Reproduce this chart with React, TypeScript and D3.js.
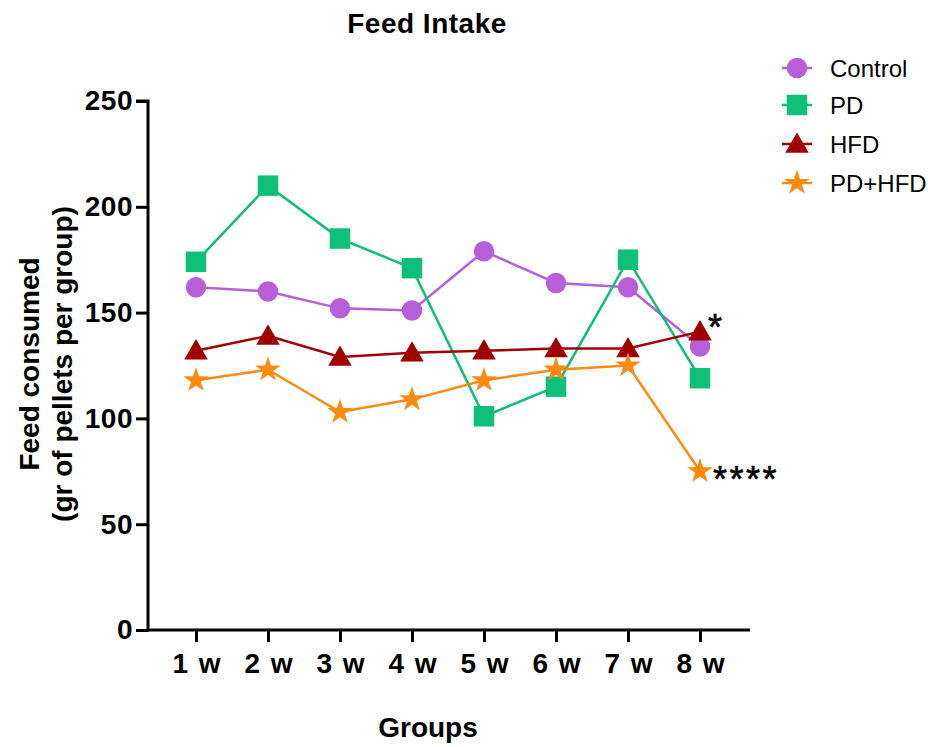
import React, { useEffect, useRef } from 'react';
import * as d3 from 'd3';

const weeks = ['1 w', '2 w', '3 w', '4 w', '5 w', '6 w', '7 w', '8 w'];
const yTicks = [0, 50, 100, 150, 200, 250];

const controlValues = [162, 160, 152, 151, 179, 164, 162, 134];
const pdValues = [174, 210, 185, 171, 101, 115, 175, 119];
const hfdValues = [132, 139, 129, 131, 132, 133, 133, 141];
const pdHfdValues = [118, 123, 103, 109, 118, 123, 125, 75];

const seriesNames = ['Control', 'PD', 'HFD', 'PD+HFD'];
const seriesColors = ['#b65fd8', '#0dbf78', '#a00000', '#ff8a10'];

const FONT = 'Liberation Sans, Arial, sans-serif';

function App() {
  const ref = useRef<SVGSVGElement | null>(null);

  useEffect(() => {
    if (!ref.current) return;
    const svg = d3.select(ref.current);
    svg.selectAll('*').remove();

    const width = 928;
    const height = 747;
    svg.attr('width', width).attr('height', height);

    const x = d3.scalePoint<string>().domain(weeks).range([196, 700]);
    const y = d3.scaleLinear().domain([0, 250]).range([630, 101]);

    const allSeries = [controlValues, pdValues, hfdValues, pdHfdValues];
    const symbols = [d3.symbolCircle, d3.symbolSquare, d3.symbolTriangle, d3.symbolStar];
    const sizes = [330, 420, 240, 200];

    // axes
    const yAxis = d3.axisLeft(y).tickValues(yTicks).tickSize(12).tickPadding(3);
    const gy = svg.append('g').attr('transform', 'translate(148,0)').call(yAxis);
    gy.select('.domain').attr('stroke', '#000').attr('stroke-width', 3).attr('d', 'M-12,101H0V631.5');
    gy.selectAll('.tick line').attr('stroke', '#000').attr('stroke-width', 3);
    gy.selectAll('.tick text')
      .attr('fill', '#000')
      .attr('font-family', FONT)
      .attr('font-weight', 'bold')
      .attr('font-size', 28)
      .attr('letter-spacing', 0.5);

    const xAxis = d3.axisBottom(x).tickSize(12).tickPadding(0);
    const gx = svg.append('g').attr('transform', 'translate(0,630)').call(xAxis);
    gx.select('.domain').attr('stroke', '#000').attr('stroke-width', 3).attr('d', 'M146.5,0H750');
    gx.selectAll('.tick line').attr('stroke', '#000').attr('stroke-width', 3);
    gx.selectAll('.tick text')
      .attr('fill', '#000')
      .attr('font-family', FONT)
      .attr('font-weight', 'bold')
      .attr('font-size', 28)
      .attr('dy', null)
      .attr('y', 43)
      .attr('word-spacing', 3);

    // lines + markers
    allSeries.forEach((vals, si) => {
      const line = d3.line<number>()
        .x((_, i) => x(weeks[i]) as number)
        .y((d) => y(d));
      svg.append('path')
        .datum(vals)
        .attr('fill', 'none')
        .attr('stroke', seriesColors[si])
        .attr('stroke-width', 2.5)
        .attr('d', line);
    });

    allSeries.forEach((vals, si) => {
      const sym = d3.symbol().type(symbols[si]).size(sizes[si]);
      svg.append('g').selectAll('path')
        .data(vals)
        .enter()
        .append('path')
        .attr('transform', (d, i) => `translate(${x(weeks[i])},${y(d) + (si === 2 ? 2 : 0)})`)
        .attr('d', sym)
        .attr('fill', seriesColors[si]);
    });

    // significance marks
    svg.append('text')
      .attr('x', (x('8 w') as number) + 8)
      .attr('y', y(hfdValues[7]) + 8)
      .attr('font-family', FONT)
      .attr('font-size', 36)
      .attr('fill', '#000')
      .attr('stroke', '#000')
      .attr('stroke-width', 0.6)
      .text('*');
    svg.append('text')
      .attr('x', (x('8 w') as number) + 13)
      .attr('y', y(pdHfdValues[7]) + 21)
      .attr('font-family', FONT)
      .attr('font-size', 36)
      .attr('letter-spacing', 2.5)
      .attr('fill', '#000')
      .attr('stroke', '#000')
      .attr('stroke-width', 0.6)
      .text('****');

    // titles
    svg.append('text')
      .attr('x', 427)
      .attr('y', 33)
      .attr('text-anchor', 'middle')
      .attr('font-family', FONT)
      .attr('font-weight', 'bold')
      .attr('font-size', 28)
      .attr('letter-spacing', 0.5)
      .text('Feed Intake');

    svg.append('text')
      .attr('x', 428)
      .attr('y', 737)
      .attr('text-anchor', 'middle')
      .attr('font-family', FONT)
      .attr('font-weight', 'bold')
      .attr('font-size', 28)
      .text('Groups');

    const yl = svg.append('text')
      .attr('transform', 'translate(39,364) rotate(-90)')
      .attr('text-anchor', 'middle')
      .attr('font-family', FONT)
      .attr('font-weight', 'bold')
      .attr('font-size', 28);
    yl.append('tspan').attr('x', 0).attr('dy', 0).text('Feed consumed');
    yl.append('tspan').attr('x', 0).attr('dy', 33).text('(gr of pellets per group)');

    // legend
    const legendY = [68, 105, 144, 183];
    seriesNames.forEach((name, si) => {
      const g = svg.append('g').attr('transform', `translate(797,${legendY[si]})`);
      g.append('line')
        .attr('x1', -15).attr('x2', 15)
        .attr('y1', 0).attr('y2', 0)
        .attr('stroke', seriesColors[si])
        .attr('stroke-width', 2.5);
      g.append('path')
        .attr('d', d3.symbol().type(symbols[si]).size(sizes[si])())
        .attr('transform', si === 2 ? 'translate(0,2)' : '')
        .attr('fill', seriesColors[si]);
      g.append('text')
        .attr('x', 33)
        .attr('y', 8.5)
        .attr('font-family', FONT)
        .attr('font-size', 24)
        .attr('fill', '#000')
        .text(name);
    });
  }, []);

  return (
    <svg
      ref={ref}
      style={{ position: 'absolute', left: 0, top: 0, background: '#fff' }}
      width={928}
      height={747}
    />
  );
}

export default App;
